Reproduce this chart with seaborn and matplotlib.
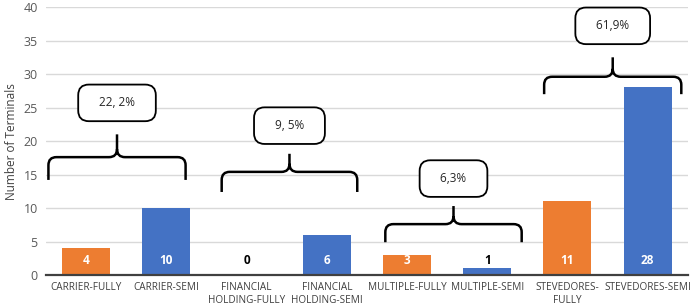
import matplotlib
matplotlib.use('Agg')
import matplotlib.pyplot as plt
from matplotlib.path import Path
from matplotlib.patches import PathPatch
import seaborn as sns
import pandas as pd

# datos
categorias = ["CARRIER-FULLY", "CARRIER-SEMI", "FINANCIAL\nHOLDING-FULLY", "FINANCIAL\nHOLDING-SEMI",
              "MULTIPLE-FULLY", "MULTIPLE-SEMI", "STEVEDORES-\nFULLY", "STEVEDORES-SEMI"]
terminales = [4, 10, 0, 6, 3, 1, 11, 28]
porcentajes = ["22, 2%", "9, 5%", "6,3%", "61,9%"]

naranja = "#ED7D31"
azul = "#4472C4"
colores = [naranja, azul] * 4

sns.set_theme(style="white")
plt.rcParams['font.family'] = ['Open Sans', 'DejaVu Sans']

df = pd.DataFrame({'cat': categorias, 'n': terminales})

fig = plt.figure(figsize=(6.9, 3.08), dpi=100)
ax = fig.add_axes([0.0667, 0.107, 0.93, 0.87])

sns.barplot(data=df, x='cat', y='n', hue='cat', palette=colores, width=0.6,
            legend=False, ax=ax, saturation=1, linewidth=0, zorder=3)

ax.set_ylim(0, 40)
ax.set_xlim(-0.5, 7.5)
ax.set_yticks(range(0, 41, 5))
ax.yaxis.grid(True, color='#d9d9d9', lw=1, zorder=0)
for s in ['top', 'right', 'left']:
    ax.spines[s].set_visible(False)
ax.spines['bottom'].set_color('#404040')
ax.spines['bottom'].set_linewidth(1.6)
ax.spines['bottom'].set_zorder(4)
ax.tick_params(axis='y', labelsize=9, colors='#595959', length=0, pad=6)
ax.tick_params(axis='x', labelsize=7.2, colors='#404040', length=0, pad=5)
ax.set_xlabel("")
ax.set_ylabel("Number of Terminals", fontsize=8.5, color='#404040', labelpad=4)

# etiquetas de valor
for i, v in enumerate(terminales):
    color = 'white' if v > 2 else 'black'
    ax.text(i, 2.2, str(v), ha='center', va='center', fontsize=8.5,
            fontweight='bold', color=color, zorder=5)

# llaves: (izq, der, punta, horizontal, pico, centro caja)
llaves = [(-0.47, 1.24, 14.2, 17.6, 21.0, 25.7),
          (1.69, 3.38, 12.4, 15.4, 18.1, 22.3),
          (3.73, 5.43, 4.9, 7.6, 10.3, 14.4),
          (5.71, 7.42, 27.0, 29.6, 32.5, 37.2)]
rx, ry = 0.1, 1.2
for (x0, x1, yt, yh, yp, yb), txt in zip(llaves, porcentajes):
    xc = (x0 + x1) / 2
    verts = [(x0, yt), (x0, yh - ry), (x0, yh), (x0 + rx, yh), (xc - rx, yh),
             (xc, yh), (xc, yh + ry), (xc, yp),
             (xc, yh + ry), (xc, yh), (xc + rx, yh), (x1 - rx, yh),
             (x1, yh), (x1, yh - ry), (x1, yt)]
    codes = [Path.MOVETO, Path.LINETO, Path.CURVE3, Path.CURVE3, Path.LINETO,
             Path.CURVE3, Path.CURVE3, Path.LINETO,
             Path.MOVETO, Path.CURVE3, Path.CURVE3, Path.LINETO,
             Path.CURVE3, Path.CURVE3, Path.LINETO]
    ax.add_patch(PathPatch(Path(verts, codes), fill=False, lw=1.8, color='black', zorder=6))
    ax.text(xc, yb, "   " + txt + "   ", ha='center', va='center', fontsize=8.5, color='#262626',
            zorder=7, bbox=dict(boxstyle='round,pad=1.0,rounding_size=0.9', fc='white',
                                ec='black', lw=1.3))

fig.savefig("out.png", dpi=100)
